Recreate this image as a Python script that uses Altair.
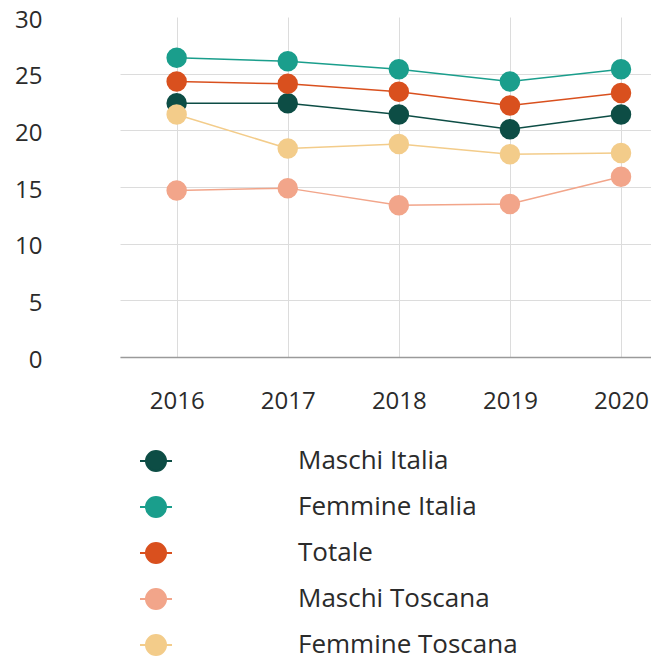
import altair as alt
import pandas as pd

years = [2016, 2017, 2018, 2019, 2020]
series = ["Maschi Italia", "Femmine Italia", "Totale", "Maschi Toscana", "Femmine Toscana"]
maschi_italia = [22.4, 22.4, 21.4, 20.1, 21.4]
femmine_italia = [26.4, 26.1, 25.4, 24.3, 25.4]
totale = [24.3, 24.1, 23.4, 22.2, 23.3]
maschi_toscana = [14.7, 14.9, 13.4, 13.5, 15.9]
femmine_toscana = [21.4, 18.4, 18.8, 17.9, 18.0]
colors = ["#0d4d45", "#1a9e8c", "#d9501e", "#f2a58a", "#f3cc8a"]
y_ticks = [0, 5, 10, 15, 20, 25, 30]

values = [maschi_italia, femmine_italia, totale, maschi_toscana, femmine_toscana]
rows = []
for i, (s, vals) in enumerate(zip(series, values)):
    for y, v in zip(years, vals):
        rows.append({"series": s, "year": y, "value": v, "order": i})
df = pd.DataFrame(rows)

FONT = "Open Sans"
scale = alt.Scale(domain=series, range=colors)
sym = "M-1,0L1,0M0.625,0A0.625,0.625,0,1,1,-0.625,0A0.625,0.625,0,1,1,0.625,0Z"
leg = alt.Legend(
    title=None, orient="none", legendX=19, legendY=427, padding=0,
    symbolType=sym, symbolSize=1024, symbolStrokeWidth=2, symbolOpacity=1,
    labelFont=FONT, labelFontSize=26, labelColor="#2b2b2b", labelOffset=125,
    rowPadding=15, labelLimit=400,
)

base = alt.Chart(df).encode(
    x=alt.X("year:Q", title=None,
            scale=alt.Scale(domain=[2015.49, 2020.27], nice=False, zero=False),
            axis=alt.Axis(values=years, format="d", grid=True, gridColor="#dcdcdc",
                          ticks=False, domain=True, domainColor="#9a9a9a", domainWidth=1.5,
                          labelFont=FONT, labelFontSize=24, labelColor="#2b2b2b",
                          labelPadding=32, labelFlush=False)),
    y=alt.Y("value:Q", title=None, scale=alt.Scale(domain=[0, 30], nice=False),
            axis=alt.Axis(values=y_ticks, grid=True, gridColor="#dcdcdc", ticks=False,
                          gridOpacity=alt.condition("datum.value == 30", alt.value(0), alt.value(1)),
                          domain=False, labelAlign="right", labelPadding=78, labelOffset=3,
                          labelFont=FONT, labelFontSize=24, labelColor="#2b2b2b")),
)

lines = base.mark_line(strokeWidth=1.5).encode(
    color=alt.Color("series:N", scale=scale, sort=series, legend=leg),
    detail="series:N",
)
points = base.mark_point(filled=True, size=420, opacity=1, strokeWidth=0).encode(
    color=alt.Color("series:N", scale=scale, sort=series, legend=leg),
    order="order:Q",
)

chart = alt.layer(lines, points).properties(
    width=531, height=340,
    autosize=alt.AutoSizeParams(type="none"),
    padding={"left": 112, "top": 9, "right": 0, "bottom": 304},
).configure_view(stroke=None)

chart.save("out.html", embed_options={"renderer": "svg", "actions": False})
